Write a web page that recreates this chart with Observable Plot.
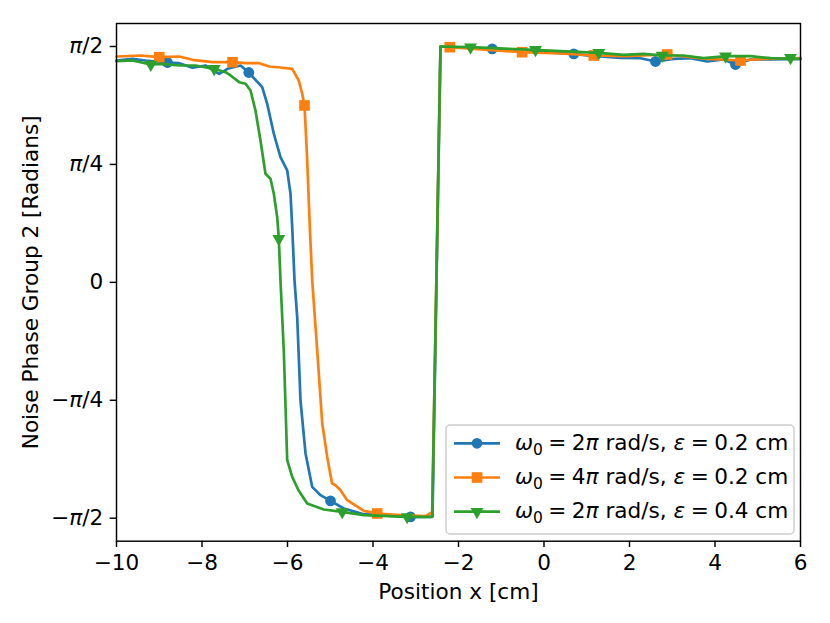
<!DOCTYPE html>
<html><head><meta charset="utf-8">
<script src="https://cdn.jsdelivr.net/npm/d3@7"></script>
<script src="https://cdn.jsdelivr.net/npm/@observablehq/plot@0.6"></script>
<style>
body{margin:0;background:#fff}
#chart{position:relative;width:830px;height:623px}
</style>
</head><body><div id="chart"></div>
<script>
// ---- data ----
const blueX = [-10,-9.626,-9.322,-8.807,-8.533,-8.222,-7.918,-7.598,-7.404,-7.099,-6.905,-6.592,-6.475,-6.320,-6.164,-6.007,-5.930,-5.890,-5.836,-5.773,-5.696,-5.579,-5.422,-5.228,-4.994,-4.683,-4.215,-3.123,-2.655,-2.608,-2.421,-1.211,-0.316,0.697,1.011,1.789,2.257,2.608,3.036,3.427,3.817,4.199,4.480,4.830,5.298,6.0];
const blueY = [1.4775,1.4889,1.4775,1.4642,1.4596,1.4290,1.4443,1.3890,1.4223,1.4443,1.3977,1.2998,1.1893,0.9897,0.8340,0.7454,0.5903,0.3681,0.0133,-0.2310,-0.7854,-1.1381,-1.3624,-1.4176,-1.4556,-1.5062,-1.5441,-1.5621,-1.5621,-1.5574,1.5707,1.5554,1.5374,1.5221,1.5108,1.4955,1.4929,1.4709,1.4889,1.4929,1.4709,1.4842,1.4509,1.4842,1.4842,1.4889];

const orangeX = [-10,-9.439,-9.001,-8.533,-8.222,-7.754,-7.287,-6.982,-6.662,-6.428,-6.164,-5.890,-5.736,-5.656,-5.602,-5.539,-5.478,-5.422,-5.305,-5.188,-5.071,-4.959,-4.877,-4.760,-4.603,-4.215,-3.902,-3.357,-2.772,-2.615,-2.421,-2.204,-0.510,0.386,1.165,1.860,2.882,3.427,3.817,4.597,5.142,6.0];
const orangeY = [1.5042,1.5108,1.4995,1.5042,1.4822,1.4662,1.4662,1.4596,1.4596,1.4376,1.4310,1.4223,1.3444,1.2559,1.1780,0.8120,0.3681,0.0133,-0.4526,-0.9384,-1.1627,-1.3378,-1.3511,-1.3844,-1.4509,-1.5221,-1.5394,-1.5508,-1.5574,-1.5308,1.5707,1.5661,1.5328,1.5241,1.5108,1.5062,1.5175,1.4995,1.4889,1.4775,1.4889,1.4929];

const greenX = [-10,-9.626,-9.198,-8.924,-8.533,-8.152,-7.715,-7.450,-7.333,-7.130,-6.982,-6.865,-6.749,-6.632,-6.515,-6.398,-6.320,-6.241,-6.203,-6.164,-6.087,-6.007,-5.890,-5.743,-5.539,-5.151,-4.720,-4.215,-3.200,-2.615,-2.421,-1.719,-0.246,1.275,1.860,2.328,2.765,3.263,3.731,4.285,4.830,5.298,5.766,6.0];
const greenY = [1.4729,1.4775,1.4509,1.4556,1.4443,1.4443,1.4223,1.3997,1.3777,1.3331,1.3225,1.2779,1.1448,0.9451,0.7235,0.6902,0.5903,0.4346,0.2908,0.0133,-0.4526,-1.1847,-1.2958,-1.3844,-1.4729,-1.5128,-1.5288,-1.5508,-1.5621,-1.5621,1.5707,1.5661,1.5488,1.5288,1.5155,1.5221,1.5108,1.5108,1.4929,1.5062,1.5062,1.4929,1.4889,1.4889];

// marker positions (every N-th sample in the original)
const blueMarkX = [-8.807,-6.905,-4.994,-3.123,-1.211,0.697,2.608,4.480];
const blueMarkY = [1.4642,1.3977,-1.4556,-1.5621,1.5554,1.5221,1.4709,1.4509];
const orangeMarkX = [-9.001,-7.287,-5.602,-3.902,-2.204,-0.510,1.165,2.882,4.597];
const orangeMarkY = [1.4995,1.4662,1.1780,-1.5394,1.5661,1.5328,1.5108,1.5175,1.4775];
const greenMarkX = [-9.198,-7.715,-6.203,-4.720,-3.200,-1.719,-0.199,1.282,2.765,4.246,5.766];
const greenMarkY = [1.4509,1.4223,0.2908,-1.5288,-1.5621,1.5661,1.5488,1.5288,1.5108,1.5062,1.4955];

const seriesNames = ["ω0 = 2π rad/s, ε = 0.2 cm","ω0 = 4π rad/s, ε = 0.2 cm","ω0 = 2π rad/s, ε = 0.4 cm"];
const seriesColors = ["#1f77b4","#ff7f0e","#2ca02c"];
const xTicks = [-10,-8,-6,-4,-2,0,2,4,6];
const yTicks = [-Math.PI/2,-Math.PI/4,0,Math.PI/4,Math.PI/2];
const yTickLabels = ["−π/2","−π/4","0","π/4","π/2"];

// ---- build rows ----
const zip = (xs, ys) => xs.map((x, i) => ({x, y: ys[i]}));
const lines = [zip(blueX, blueY), zip(orangeX, orangeY), zip(greenX, greenY)];
const marks = [zip(blueMarkX, blueMarkY), zip(orangeMarkX, orangeMarkY), zip(greenMarkX, greenMarkY)];
const symbols = ["circle","square","triangle"];
const symR = [5.4, 6.0, 4.8];
const symRot = [0, 0, 180];

const fmtX = d => d < 0 ? "−" + (-d) : String(d);
const fmtY = d => {
  let best = 0;
  yTicks.forEach((t, i) => { if (Math.abs(t - d) < Math.abs(yTicks[best] - d)) best = i; });
  return yTickLabels[best];
};

const seriesMarks = [];
for (let k = 0; k < 3; k++) {
  seriesMarks.push(Plot.line(lines[k], {x: "x", y: "y", stroke: seriesColors[k], strokeWidth: 2.7, strokeLinejoin: "round"}));
  seriesMarks.push(Plot.dot(marks[k], {x: "x", y: "y", fill: seriesColors[k], symbol: symbols[k], r: symR[k], rotate: symRot[k], stroke: "none"}));
}

const chart = Plot.plot({
  width: 830, height: 623,
  marginLeft: 116, marginRight: 30, marginTop: 23, marginBottom: 82.3,
  style: {fontFamily: "DejaVu Sans", fontSize: "21.6px", background: "white", color: "black", overflow: "visible"},
  x: {domain: [-10, 6]},
  y: {domain: [-1.724, 1.724]},
  marks: [
    Plot.axisX({ticks: xTicks, tickFormat: fmtX, tickSize: 6.3, tickPadding: 7, strokeWidth: 1.44, fontSize: 21.6,
      label: "Position x [cm]", labelAnchor: "center", labelOffset: 58, labelArrow: "none"}),
    Plot.axisY({ticks: yTicks, tickFormat: fmtY, tickSize: 6.3, tickPadding: 7, strokeWidth: 1.44, fontSize: 21.6,
      label: "Noise Phase Group 2 [Radians]", labelAnchor: "center", labelOffset: 94, labelArrow: "none"}),
    ...seriesMarks,
    Plot.frame({stroke: "black", strokeWidth: 1.44})
  ]
});
document.getElementById("chart").appendChild(chart);

const svg = d3.select(chart);
// italic pi in y tick labels
svg.selectAll('g[aria-label="y-axis tick label"] text').each(function() {
  const s = this.textContent;
  const t = d3.select(this);
  t.text(null);
  s.split(/(π)/).forEach(part => {
    if (!part) return;
    const sp = t.append("tspan").text(part);
    if (part === "π") sp.attr("font-style", "italic");
  });
});

// legend
const lg = svg.append("g").attr("font-family", "DejaVu Sans").attr("font-size", 21.6).attr("text-anchor", "start");
lg.append("rect").attr("x", 446).attr("y", 425).attr("width", 348).attr("height", 109)
  .attr("rx", 4).attr("fill", "white").attr("fill-opacity", 0.8).attr("stroke", "#cccccc").attr("stroke-width", 1.4);
const rowY = [443.3, 477.5, 511.7];
const sp4 = "\u2005"; // math-style spacing around "="
const legendParts = seriesNames.map(name => {
  const m = name.match(/ω0 = (\d)π rad\/s, ε = ([\d.]+) cm/);
  return [
    {t: "ω", it: true}, {t: "0", sub: true}, {t: sp4 + "=" + sp4 + m[1], up: true}, {t: "π", it: true},
    {t: " rad/s, "}, {t: "ε", it: true}, {t: sp4 + "=" + sp4 + m[2] + " cm"}
  ];
});
for (let k = 0; k < 3; k++) {
  const y = rowY[k];
  lg.append("line").attr("x1", 454).attr("x2", 500).attr("y1", y).attr("y2", y)
    .attr("stroke", seriesColors[k]).attr("stroke-width", 2.7);
  const sym = d3.symbol().type(k === 0 ? d3.symbolCircle : k === 1 ? d3.symbolSquare : d3.symbolTriangle)
    .size(Math.PI * symR[k] * symR[k]);
  lg.append("path").attr("d", sym()).attr("fill", seriesColors[k])
    .attr("transform", `translate(477,${y}) rotate(${symRot[k]})`);
  const tx = lg.append("text").attr("x", 515).attr("y", y + 6.7);
  legendParts[k].forEach(p => {
    const sp = tx.append("tspan").text(p.t);
    if (p.it) sp.attr("font-style", "italic");
    if (p.sub) sp.attr("dy", 4.5).attr("font-size", 15.5);
    if (p.up) sp.attr("dy", -4.5);
  });
}
</script></body></html>
